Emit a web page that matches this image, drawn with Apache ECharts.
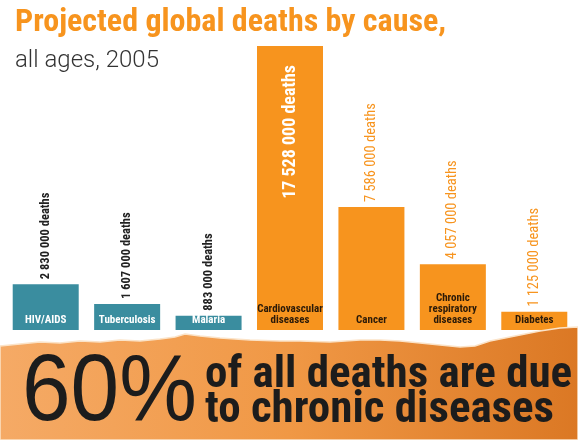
<!DOCTYPE html>
<html>
<head>
<meta charset="utf-8">
<script src="https://cdn.jsdelivr.net/npm/echarts@6/dist/echarts.min.js"></script>
<style>
  html, body { margin: 0; padding: 0; background: #fff; }
  #main { width: 578px; height: 440px; }
</style>
</head>
<body>
<div id="main"></div>
<script>
// categories and death counts (2005 projection)
const causes = ['HIV/AIDS', 'Tuberculosis', 'Malaria', 'Cardiovascular\ndiseases', 'Cancer', 'Chronic\nrespiratory\ndiseases', 'Diabetes'];
const deaths = [2830000, 1607000, 883000, 17528000, 7586000, 4057000, 1125000];
const kind = ['infectious', 'infectious', 'infectious', 'chronic', 'chronic', 'chronic', 'chronic'];

const TEAL = '#3a8d9f';
const ORANGE = '#f7941e';
const NARROW = '"Roboto Condensed", "DejaVu Sans Condensed", sans-serif';

// 2830000 -> "2 830 000"
function fmt(v) {
  return String(v).replace(/\B(?=(\d{3})+(?!\d))/g, ' ');
}

const chart = echarts.init(document.getElementById('main'), null, { renderer: 'canvas' });

const barData = deaths.map(function (v, i) {
  const infectious = kind[i] === 'infectious';
  const item = {
    value: v,
    itemStyle: { color: infectious ? TEAL : ORANGE },
    label: infectious
      ? { color: '#222', fontWeight: 'bold', fontSize: 12.5 }
      : { color: ORANGE, fontWeight: 'normal', fontSize: 14.5 }
  };
  // the tallest bar has its label inside, white and big
  if (v === Math.max.apply(null, deaths)) {
    item.label = {
      position: 'insideTop',
      distance: 19,
      align: 'right',
      color: '#fff',
      fontSize: 18,
      fontWeight: 'bold'
    };
  }
  return item;
});

// torn paper edge of the banner
const edge = [[0,346],[20,344],[40,342],[60,343],[80,341],[100,342],[120,340],[140,341],[160,339],[175,337],
  [185,334],[200,336],[220,338],[250,340],[280,341],[300,341],[330,342],[360,340],[380,340],[400,341],
  [420,343],[440,345],[460,347],[475,346],[490,341],[505,338],[520,335],[540,331],[560,328],[578,327],
  [578,440],[0,440]];

const option = {
  backgroundColor: '#fff',
  animation: false,
  title: {
    text: 'Projected global deaths by cause,',
    subtext: 'all ages, 2005',
    left: 10,
    top: 2,
    itemGap: 10,
    textStyle: { color: ORANGE, fontFamily: NARROW, fontWeight: 'bold', fontSize: 32 },
    subtextStyle: { color: '#333', fontFamily: 'Roboto, sans-serif', fontWeight: 300, fontSize: 24 }
  },
  grid: { left: 5, right: 3, top: 38.4, bottom: 110 },
  xAxis: {
    type: 'category',
    data: causes,
    z: 10,
    axisLine: { show: false },
    axisTick: { show: false },
    axisLabel: {
      inside: true,
      margin: 4,
      interval: 0,
      fontFamily: NARROW,
      fontWeight: 'bold',
      fontSize: 11,
      lineHeight: 11,
      color: function (value, index) {
        return kind[index] === 'infectious' ? '#fff' : '#2b1a08';
      }
    }
  },
  yAxis: { type: 'value', min: 0, max: 18000000, show: false },
  series: [{
    type: 'bar',
    barWidth: 66,
    data: barData,
    label: {
      show: true,
      position: 'top',
      distance: 5,
      rotate: 90,
      align: 'left',
      verticalAlign: 'middle',
      fontFamily: NARROW,
      formatter: function (p) { return fmt(p.value) + ' deaths'; }
    }
  }],
  graphic: [
    {
      type: 'polygon',
      z: 100,
      shape: { points: edge },
      style: {
        fill: new echarts.graphic.LinearGradient(0, 0, 1, 0, [
          { offset: 0, color: '#f5aa66' },
          { offset: 0.5, color: '#f09845' },
          { offset: 1, color: '#db7824' }
        ]),
        stroke: '#fbe3c8',
        lineWidth: 1.5
      }
    },
    {
      type: 'text',
      z: 101,
      x: 22,
      y: 394,
      scaleX: 0.92,
      style: {
        text: '60%',
        fill: '#1c1c1c',
        font: 'normal 95px "Liberation Sans", Arial, sans-serif',
        verticalAlign: 'middle',
        shadowBlur: 3,
        shadowColor: 'rgba(0,0,0,0.4)'
      }
    },
    {
      type: 'text',
      z: 101,
      x: 205,
      y: 376,
      style: {
        text: 'of all deaths are due',
        fill: '#1c1c1c',
        font: 'bold 45px ' + NARROW,
        verticalAlign: 'middle',
        shadowBlur: 3,
        shadowColor: 'rgba(0,0,0,0.4)'
      }
    },
    {
      type: 'text',
      z: 101,
      x: 205,
      y: 411,
      style: {
        text: 'to chronic diseases',
        fill: '#1c1c1c',
        font: 'bold 45px ' + NARROW,
        verticalAlign: 'middle',
        shadowBlur: 3,
        shadowColor: 'rgba(0,0,0,0.4)'
      }
    }
  ]
};

chart.setOption(option);
</script>
</body>
</html>
